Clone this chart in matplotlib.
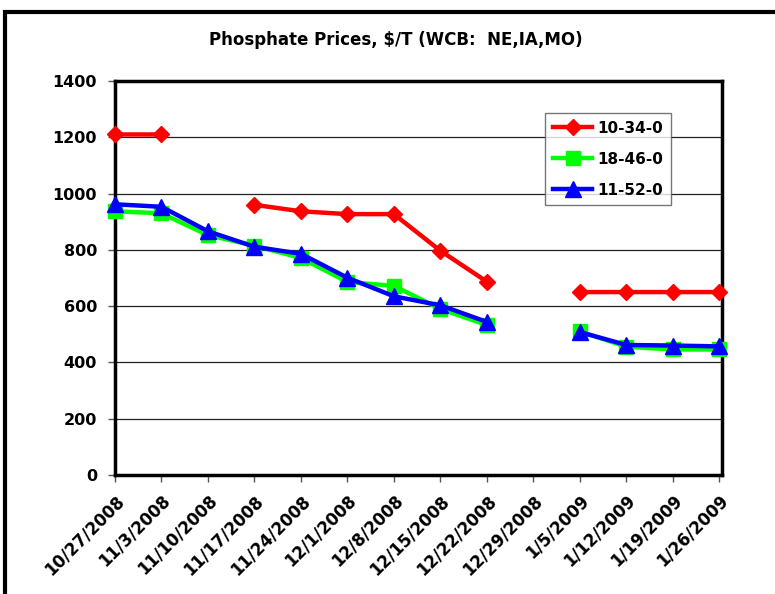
import numpy as np
import matplotlib
matplotlib.use("Agg")
import matplotlib.pyplot as plt
from matplotlib.patches import Rectangle
from matplotlib.transforms import ScaledTranslation

plt.rcParams['font.family'] = ['DejaVu Sans']

dates = ["10/27/2008", "11/3/2008", "11/10/2008", "11/17/2008", "11/24/2008",
         "12/1/2008", "12/8/2008", "12/15/2008", "12/22/2008", "12/29/2008",
         "1/5/2009", "1/12/2009", "1/19/2009", "1/26/2009"]
nan = np.nan
s_10_34_0 = [1210, 1210, nan, 960, 937, 927, 927, 797, 687, nan, 650, 650, 650, 650]
s_18_46_0 = [937, 930, 852, 815, 771, 686, 672, 590, 533, nan, 510, 456, 446, 446]
s_11_52_0 = [962, 953, 866, 811, 786, 701, 635, 603, 544, nan, 508, 462, 460, 457]

fig = plt.figure(figsize=(7.75, 5.94), dpi=100)
ax = fig.add_axes([115/775, 1-475/594, (722-115)/775, (475-81)/594])

x = np.arange(len(dates))
ax.plot(x, s_10_34_0, color='#ff0000', lw=3.2, marker='D', ms=8.5, label='10-34-0', zorder=3, clip_on=False)
ax.plot(x, s_18_46_0, color='#00ff00', lw=3.2, marker='s', ms=9.5, label='18-46-0', zorder=4, clip_on=False)
ax.plot(x, s_11_52_0, color='#0000ff', lw=3.2, marker='^', ms=11, label='11-52-0', zorder=5, clip_on=False)

ax.set_xlim(0, len(dates)-1+0.06)
ax.set_ylim(0, 1400)
ax.set_yticks(range(0, 1401, 200))
ax.set_xticks(x)
ax.set_xticklabels(dates, rotation=45, ha='right', va='top', rotation_mode='anchor',
                   fontsize=12, fontweight='bold')
off = ScaledTranslation(-7/100, -6/100, fig.dpi_scale_trans)
for lab in ax.get_xticklabels():
    lab.set_transform(lab.get_transform() + off)
for lab in ax.get_yticklabels():
    lab.set_fontweight('bold')
    lab.set_fontsize(11.5)
ax.tick_params(axis='both', direction='out', length=5, width=1, color='#555555')
ax.tick_params(axis='y', pad=8)
ax.tick_params(axis='x', pad=7)
ax.yaxis.grid(True, color='#222222', lw=0.9)
ax.set_axisbelow(True)
for sp in ax.spines.values():
    sp.set_linewidth(2.5)
    sp.set_color('black')

leg = ax.legend(loc='upper left', bbox_to_anchor=((545-115)/607, (475-113)/394),
                frameon=True, fancybox=False, edgecolor='#555555', prop={'weight': 'bold', 'size': 11},
                handlelength=2.6, borderpad=0.5, labelspacing=1.05, handletextpad=0.35, borderaxespad=0)
leg.get_frame().set_linewidth(1.0)

fig.text(396/775, 1-40/594, "Phosphate Prices, $/T (WCB:  NE,IA,MO)", ha='center', va='center',
         fontsize=12, fontweight='bold')

frame = Rectangle((5/775, -0.1), 1.2, 1-12/594+0.1, transform=fig.transFigure,
                  fill=False, edgecolor='black', lw=3, clip_on=False)
fig.add_artist(frame)

fig.savefig("out.png", dpi=100)
